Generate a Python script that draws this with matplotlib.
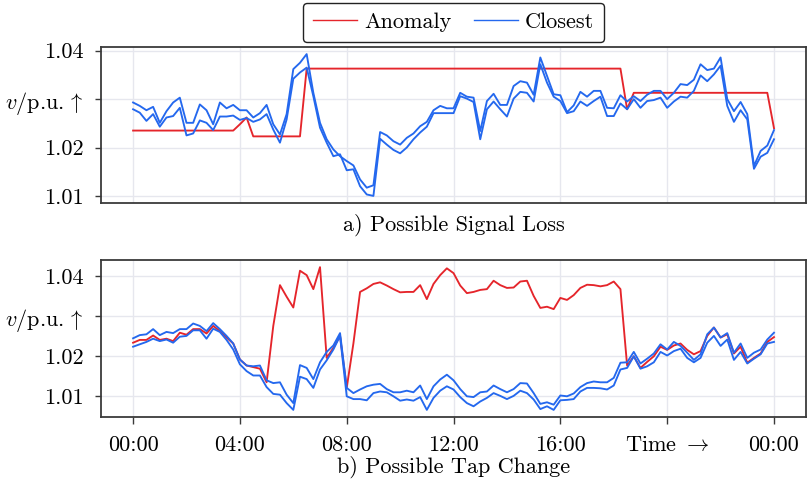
import numpy as np
import matplotlib
matplotlib.use("Agg")
import matplotlib.pyplot as plt

plt.rcParams["font.family"] = ["cmr10", "DejaVu Serif"]
plt.rcParams["mathtext.fontset"] = "cm"
plt.rcParams["axes.unicode_minus"] = False
plt.rcParams["axes.formatter.use_mathtext"] = True

# time in hours, 15 minute steps over one day
hours = np.arange(97) * 0.25

# a) possible signal loss
sig_anom = [
    1.0235, 1.0235, 1.0235, 1.0235, 1.0235, 1.0235, 1.0235, 1.0235, 1.0235, 1.0235,
    1.0235, 1.0235, 1.0235, 1.0235, 1.0235, 1.0235, 1.0248, 1.0262, 1.0223, 1.0223,
    1.0223, 1.0223, 1.0223, 1.0223, 1.0223, 1.0223, 1.0363, 1.0363, 1.0363, 1.0363,
    1.0363, 1.0363, 1.0363, 1.0363, 1.0363, 1.0363, 1.0363, 1.0363, 1.0363, 1.0363,
    1.0363, 1.0363, 1.0363, 1.0363, 1.0363, 1.0363, 1.0363, 1.0363, 1.0363, 1.0363,
    1.0363, 1.0363, 1.0363, 1.0363, 1.0363, 1.0363, 1.0363, 1.0363, 1.0363, 1.0363,
    1.0363, 1.0363, 1.0363, 1.0363, 1.0363, 1.0363, 1.0363, 1.0363, 1.0363, 1.0363,
    1.0363, 1.0363, 1.0363, 1.0363, 1.0279, 1.0313, 1.0313, 1.0313, 1.0313, 1.0313,
    1.0313, 1.0313, 1.0313, 1.0313, 1.0313, 1.0313, 1.0313, 1.0313, 1.0313, 1.0313,
    1.0313, 1.0313, 1.0313, 1.0313, 1.0313, 1.0313, 1.0240,
]
sig_close1 = [
    1.0293, 1.0286, 1.0277, 1.0284, 1.0251, 1.0275, 1.0293, 1.0303, 1.0251, 1.0251,
    1.0289, 1.0277, 1.0248, 1.0293, 1.0281, 1.0288, 1.0277, 1.0277, 1.0262, 1.0271,
    1.0288, 1.0248, 1.0227, 1.0269, 1.0362, 1.0375, 1.0393, 1.0313, 1.0251, 1.0217,
    1.0196, 1.0182, 1.0172, 1.0163, 1.0134, 1.0117, 1.0122, 1.0232, 1.0225, 1.0213,
    1.0206, 1.0220, 1.0229, 1.0244, 1.0253, 1.0277, 1.0286, 1.0281, 1.0281, 1.0313,
    1.0305, 1.0303, 1.0234, 1.0296, 1.0311, 1.0288, 1.0288, 1.0327, 1.0337, 1.0334,
    1.0309, 1.0386, 1.0348, 1.0310, 1.0308, 1.0273, 1.0287, 1.0315, 1.0305, 1.0317,
    1.0317, 1.0282, 1.0281, 1.0308, 1.0295, 1.0306, 1.0296, 1.0309, 1.0317, 1.0317,
    1.0300, 1.0313, 1.0331, 1.0329, 1.0340, 1.0372, 1.0360, 1.0363, 1.0386, 1.0300,
    1.0275, 1.0294, 1.0269, 1.0162, 1.0193, 1.0204, 1.0236,
]
sig_close2 = [
    1.0279, 1.0272, 1.0255, 1.0269, 1.0243, 1.0262, 1.0265, 1.0282, 1.0225, 1.0229,
    1.0256, 1.0251, 1.0236, 1.0264, 1.0264, 1.0266, 1.0257, 1.0261, 1.0253, 1.0258,
    1.0269, 1.0237, 1.0210, 1.0258, 1.0342, 1.0355, 1.0365, 1.0306, 1.0241, 1.0210,
    1.0182, 1.0186, 1.0153, 1.0155, 1.0120, 1.0103, 1.0100, 1.0218, 1.0206, 1.0195,
    1.0188, 1.0200, 1.0217, 1.0231, 1.0243, 1.0271, 1.0271, 1.0271, 1.0271, 1.0306,
    1.0301, 1.0294, 1.0217, 1.0279, 1.0295, 1.0279, 1.0264, 1.0301, 1.0315, 1.0313,
    1.0295, 1.0372, 1.0334, 1.0305, 1.0296, 1.0271, 1.0275, 1.0295, 1.0286, 1.0296,
    1.0305, 1.0265, 1.0265, 1.0291, 1.0279, 1.0300, 1.0282, 1.0296, 1.0298, 1.0303,
    1.0282, 1.0295, 1.0305, 1.0303, 1.0317, 1.0349, 1.0337, 1.0351, 1.0369, 1.0286,
    1.0253, 1.0277, 1.0258, 1.0156, 1.0181, 1.0189, 1.0217,
]

# b) possible tap change
tap_anom = [
    1.0234, 1.0241, 1.0241, 1.0252, 1.0241, 1.0244, 1.0238, 1.0259, 1.0254, 1.0268,
    1.0268, 1.0257, 1.0276, 1.0263, 1.0247, 1.0232, 1.0192, 1.0177, 1.0173, 1.0169,
    1.0135, 1.0276, 1.0378, 1.0349, 1.0322, 1.0414, 1.0403, 1.0368, 1.0423, 1.0196,
    1.0221, 1.0251, 1.0121, 1.0232, 1.0361, 1.0370, 1.0381, 1.0385, 1.0377, 1.0368,
    1.0360, 1.0361, 1.0361, 1.0378, 1.0343, 1.0381, 1.0403, 1.0420, 1.0408, 1.0377,
    1.0358, 1.0361, 1.0366, 1.0368, 1.0389, 1.0378, 1.0371, 1.0372, 1.0387, 1.0389,
    1.0351, 1.0321, 1.0324, 1.0318, 1.0346, 1.0341, 1.0353, 1.0371, 1.0379, 1.0378,
    1.0375, 1.0378, 1.0387, 1.0368, 1.0177, 1.0200, 1.0171, 1.0186, 1.0200, 1.0224,
    1.0216, 1.0227, 1.0232, 1.0216, 1.0205, 1.0213, 1.0251, 1.0272, 1.0247, 1.0255,
    1.0207, 1.0224, 1.0184, 1.0196, 1.0207, 1.0236, 1.0248,
]
tap_close1 = [
    1.0245, 1.0253, 1.0255, 1.0268, 1.0253, 1.0261, 1.0258, 1.0268, 1.0268, 1.0282,
    1.0276, 1.0263, 1.0283, 1.0268, 1.0251, 1.0232, 1.0192, 1.0177, 1.0175, 1.0177,
    1.0140, 1.0133, 1.0135, 1.0104, 1.0083, 1.0178, 1.0171, 1.0143, 1.0185, 1.0211,
    1.0227, 1.0258, 1.0121, 1.0108, 1.0117, 1.0125, 1.0129, 1.0131, 1.0118, 1.0110,
    1.0110, 1.0114, 1.0110, 1.0127, 1.0093, 1.0125, 1.0142, 1.0154, 1.0140, 1.0118,
    1.0100, 1.0098, 1.0110, 1.0112, 1.0127, 1.0118, 1.0110, 1.0118, 1.0133, 1.0132,
    1.0108, 1.0081, 1.0085, 1.0079, 1.0102, 1.0100, 1.0107, 1.0123, 1.0133, 1.0137,
    1.0135, 1.0135, 1.0146, 1.0184, 1.0185, 1.0211, 1.0182, 1.0194, 1.0207, 1.0230,
    1.0217, 1.0236, 1.0226, 1.0209, 1.0191, 1.0205, 1.0255, 1.0272, 1.0247, 1.0258,
    1.0209, 1.0232, 1.0196, 1.0209, 1.0217, 1.0242, 1.0259,
]
tap_close2 = [
    1.0224, 1.0230, 1.0236, 1.0244, 1.0238, 1.0242, 1.0234, 1.0249, 1.0251, 1.0265,
    1.0265, 1.0244, 1.0269, 1.0261, 1.0241, 1.0217, 1.0180, 1.0163, 1.0152, 1.0152,
    1.0123, 1.0106, 1.0104, 1.0083, 1.0066, 1.0149, 1.0143, 1.0121, 1.0167, 1.0190,
    1.0217, 1.0251, 1.0100, 1.0093, 1.0093, 1.0090, 1.0108, 1.0112, 1.0110, 1.0100,
    1.0089, 1.0092, 1.0089, 1.0098, 1.0066, 1.0096, 1.0114, 1.0125, 1.0117, 1.0098,
    1.0083, 1.0075, 1.0087, 1.0096, 1.0108, 1.0101, 1.0093, 1.0101, 1.0114, 1.0108,
    1.0092, 1.0068, 1.0075, 1.0066, 1.0090, 1.0091, 1.0093, 1.0112, 1.0121, 1.0121,
    1.0120, 1.0117, 1.0127, 1.0167, 1.0171, 1.0200, 1.0169, 1.0175, 1.0185, 1.0211,
    1.0202, 1.0213, 1.0219, 1.0196, 1.0185, 1.0196, 1.0234, 1.0251, 1.0226, 1.0242,
    1.0191, 1.0211, 1.0182, 1.0194, 1.0205, 1.0232, 1.0236,
]

xticks = [0, 4, 8, 12, 16, 20, 24]
xlabels = ["00:00", "04:00", "08:00", "12:00", "16:00", "Time $\\rightarrow$", "00:00"]
yticks = [1.01, 1.02, 1.03, 1.04]
ylabels = ["1.01", "1.02", "$v$/p.u.$\\,\\uparrow$", "1.04"]

red = "#e5252b"
blue = "#2468ee"
fs = 16

fig = plt.figure(figsize=(8.07, 4.83), dpi=100)
ax1 = fig.add_axes([0.1252, 0.5797, 0.8736, 0.3230])
ax2 = fig.add_axes([0.1252, 0.1366, 0.8736, 0.3251])

panels = [
    (ax1, sig_anom, sig_close1, sig_close2),
    (ax2, tap_anom, tap_close1, tap_close2),
]
for ax, anom, c1, c2 in panels:
    ax.plot(hours, anom, color=red, lw=1.35, label="Anomaly")
    ax.plot(hours, c1, color=blue, lw=1.35, label="Closest")
    ax.plot(hours, c2, color=blue, lw=1.35)
    ax.set_xticks(xticks)
    ax.set_yticks(yticks)
    ax.set_yticklabels(ylabels, fontsize=fs)
    ax.grid(True, color="#e6e7ee", lw=1.0)
    ax.set_axisbelow(True)
    for s in ax.spines.values():
        s.set_color("#3a3a3a")
        s.set_linewidth(1.3)
    ax.tick_params(axis="y", direction="out", length=4.5, width=1.0,
                   color="#3a3a3a", pad=8)

ax1.tick_params(axis="x", length=0, labelbottom=False)
ax2.set_xticklabels(xlabels, fontsize=fs)
ax2.tick_params(axis="x", direction="out", length=5, width=1.0,
                color="#3a3a3a", pad=8)

fig.text(0.562, 1 - 225 / 483, "a) Possible Signal Loss", fontsize=fs,
         ha="center", va="center")
fig.text(0.562, 1 - 467 / 483, "b) Possible Tap Change", fontsize=fs,
         ha="center", va="center")

handles, labels = ax1.get_legend_handles_labels()
leg = fig.legend(handles, labels, loc="upper center",
                 bbox_to_anchor=(453.5 / 807, 1 - 2.5 / 483), ncol=2,
                 fontsize=fs, frameon=True, fancybox=True, framealpha=1,
                 edgecolor="#222222", handlelength=2.0, handletextpad=0.3,
                 columnspacing=1.0, borderpad=0.45, borderaxespad=0)
leg.get_frame().set_linewidth(1.0)
for line in leg.get_lines():
    line.set_linewidth(1.0)

fig.savefig("out.png", dpi=100)
